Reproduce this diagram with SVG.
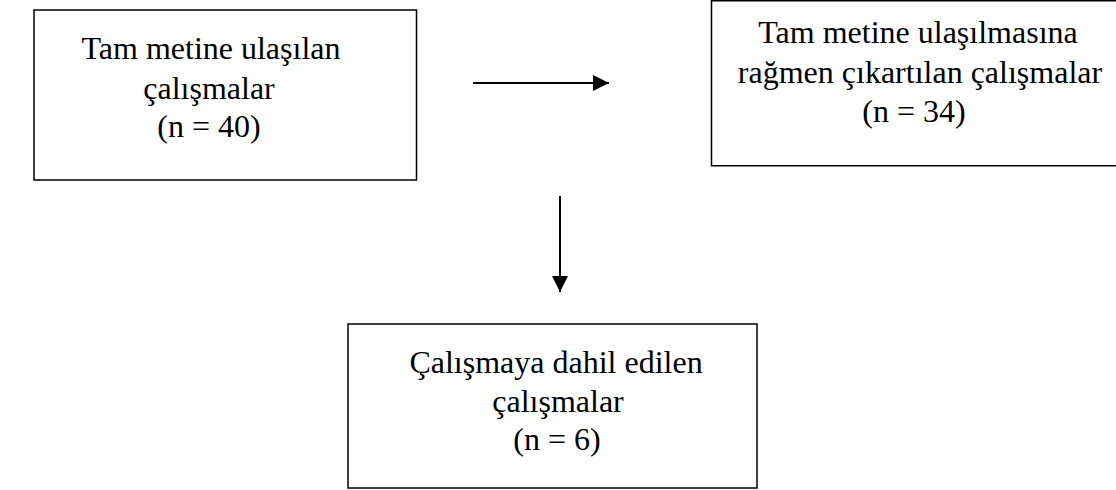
<svg xmlns="http://www.w3.org/2000/svg" width="1116" height="490" viewBox="0 0 1116 490">
<style>
.box{fill:#fff;stroke:#000;stroke-width:1.5}
.t{font-family:"Liberation Serif","Times New Roman",serif;font-size:32px;fill:#000;text-anchor:middle}
.conn{stroke:#000;stroke-width:2;fill:none}
</style>
<defs>
<marker id="ah" viewBox="0 0 16 16" refX="16" refY="8" markerWidth="16" markerHeight="16" markerUnits="userSpaceOnUse" orient="auto">
<path d="M0,0 L16,8 L0,16 Z" fill="#000"/>
</marker>
</defs>
<rect width="1116" height="490" fill="#fff"/>
<g id="node-full-text">
<rect class="box" x="34" y="10" width="382.5" height="170"/>
<text class="t" x="211" y="59">Tam metine ulaşılan</text>
<text class="t" x="209" y="99">çalışmalar</text>
<text class="t" x="209" y="137">(n = 40)</text>
</g>
<g id="node-excluded">
<rect class="box" x="711.5" y="0.75" width="410" height="165"/>
<text class="t" x="918" y="43">Tam metine ulaşılmasına</text>
<text class="t" x="920" y="83">rağmen çıkartılan çalışmalar</text>
<text class="t" x="914" y="122">(n = 34)</text>
</g>
<g id="node-included">
<rect class="box" x="348" y="324" width="409" height="164"/>
<text class="t" x="556" y="373">Çalışmaya dahil edilen</text>
<text class="t" x="558" y="412">çalışmalar</text>
<text class="t" x="557" y="450">(n = 6)</text>
</g>
<g id="connectors">
<line class="conn" x1="473" y1="83" x2="609" y2="83" marker-end="url(#ah)"/>
<line class="conn" x1="560" y1="196" x2="560" y2="292" marker-end="url(#ah)"/>
</g>
</svg>
